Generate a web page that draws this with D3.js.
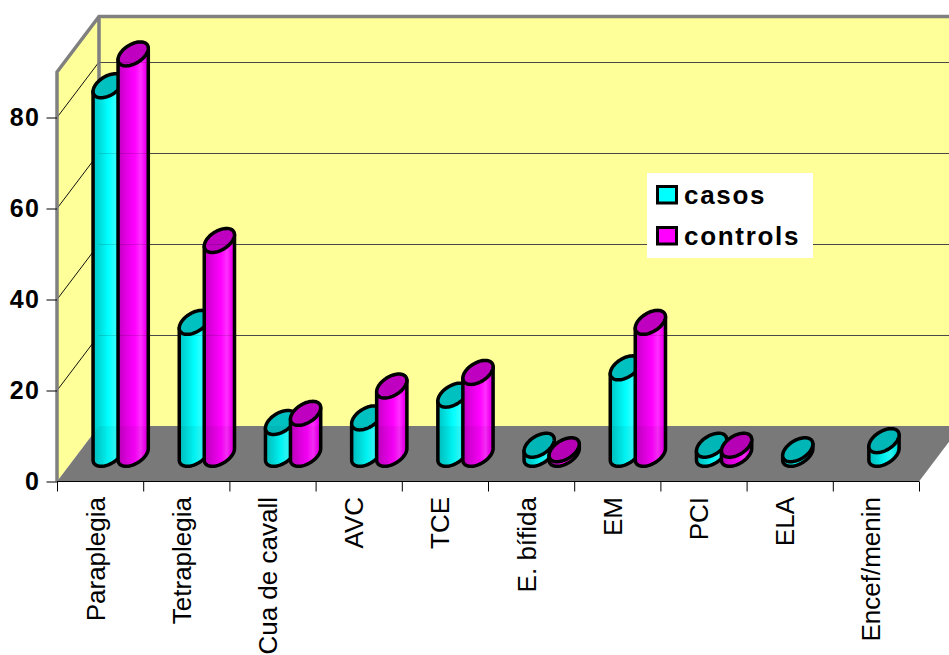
<!DOCTYPE html>
<html>
<head>
<meta charset="utf-8">
<script src="https://cdn.jsdelivr.net/npm/d3@7"></script>
<style>
html,body{margin:0;padding:0;background:#fff;overflow:hidden}
svg{display:block}
text{font-family:"Liberation Sans",Arial,sans-serif;fill:#000}
</style>
</head>
<body>
<svg id="chart" width="949" height="655"></svg>
<script>
// Patient counts per diagnosis
const categories = ["Paraplegia","Tetraplegia","Cua de cavall","AVC","TCE","E. bífida","EM","PCI","ELA","Encef/menin"];
const casos    = [81, 29, 7, 8, 13, 2, 19, 2, 1, 3];
const controls = [88, 47, 9, 15, 18, 1, 29, 2, null, null];
const seriesNames = ["casos","controls"];
const yTicks = [0,20,40,60,80];

const plot = {left:57, right:919, bottom:481.5, top:72, depthX:42, depthY:55.5};
const barDepth = 0.49;           // where the cylinders stand on the floor
const radius = {a:13.3, b:12, shear:7.2};

const svg = d3.select("#chart");
const y = d3.scaleLinear().domain([0,90]).range([plot.bottom, plot.top]);
const x = d3.scaleBand().domain(categories).range([plot.left, plot.right]);
const edge = d3.scaleLinear().domain([0,categories.length]).range([plot.left, plot.right]);
const sx = d3.scaleBand().domain(seriesNames).range([-25,25]);

// Horizontal shading for the cylinder bodies
const defs = svg.append("defs");
const shades = {
  casos:[["0",'#00c4c4'],["0.25",'#00e0e0'],["0.5",'#00ffff'],["0.72",'#30ffff'],["0.88",'#00f0f0'],["1",'#00d0d0']],
  controls:[["0",'#c000c0'],["0.25",'#e000e0'],["0.55",'#ff00ff'],["0.75",'#ff30ff'],["0.9",'#f000f0'],["1",'#c800c8']]
};
seriesNames.forEach(n=>{
  const g = defs.append("linearGradient").attr("id","shade-"+n).attr("x1",0).attr("x2",1).attr("y1",0).attr("y2",0);
  shades[n].forEach(s=>g.append("stop").attr("offset",s[0]).attr("stop-color",s[1]));
});
const topFill = {casos:"#00c0c0", controls:"#c000c0"};
const swatchFill = {casos:"#00ffff", controls:"#ff00ff"};

// Walls and floor of the 3D box
const wall = "#ffff99", frame = "#808080";
const dx = plot.depthX, dy = plot.depthY;
const floorPoints = [[plot.left,plot.bottom],[plot.right,plot.bottom],[plot.right+dx,plot.bottom-dy],[plot.left+dx,plot.bottom-dy]];
const poly = (pts,fill)=>svg.append("polygon").attr("points",pts.map(p=>p.join(",")).join(" ")).attr("fill",fill);
poly([[plot.left,plot.top],[plot.left+dx,plot.top-dy],[plot.right+dx,plot.top-dy],[plot.right+dx,plot.bottom-dy],[plot.left+dx,plot.bottom-dy],[plot.left,plot.bottom]],wall);
poly(floorPoints,frame);

// Gridlines on the back and side walls
const gridValues = yTicks.filter(v=>v>0);
svg.append("g").attr("stroke","#555").attr("shape-rendering","crispEdges")
  .selectAll("line").data(gridValues).join("line")
  .attr("x1",plot.left+dx).attr("x2",plot.right+dx).attr("y1",v=>y(v)-dy).attr("y2",v=>y(v)-dy);
svg.append("g").attr("stroke","#111")
  .selectAll("line").data(gridValues).join("line")
  .attr("x1",plot.left).attr("x2",plot.left+dx).attr("y1",v=>y(v)).attr("y2",v=>y(v)-dy);

// Grey frame edges
const framePath = d3.path();
framePath.moveTo(plot.left,plot.bottom); framePath.lineTo(plot.left,plot.top);
framePath.lineTo(plot.left+dx,plot.top-dy); framePath.lineTo(plot.right+dx,plot.top-dy);
framePath.moveTo(plot.left+dx,plot.top-dy); framePath.lineTo(plot.left+dx,plot.bottom-dy);
svg.append("path").attr("d",framePath.toString()).attr("fill","none").attr("stroke",frame).attr("stroke-width",3.5);

// Axes
const yAxis = d3.axisLeft(y).tickValues(yTicks).tickSize(10.5).tickPadding(6).tickFormat(d3.format("d"));
const yG = svg.append("g").attr("transform",`translate(${plot.left},0)`).call(yAxis);
yG.select(".domain").remove();
yG.selectAll("line").attr("stroke","#000");
yG.selectAll("text").style("font-size","25px").style("font-weight","bold").style("letter-spacing","1.5px")
  .style("font-family",'"Liberation Sans",Arial,sans-serif');

const xAxis = d3.axisBottom(edge).tickValues(d3.range(categories.length+1)).tickSize(10).tickFormat("");
const xG = svg.append("g").attr("transform",`translate(0,${plot.bottom})`).call(xAxis);
xG.select(".domain").attr("stroke","#000").attr("d",`M${plot.left},0H${plot.right}`);
xG.selectAll("line").attr("stroke","#000");

// Category labels, rotated and hanging under the axis
svg.append("g").selectAll("text").data(categories).join("text")
  .attr("transform",d=>`translate(${x(d)+x.bandwidth()/2+4.5},497) rotate(-90)`)
  .attr("text-anchor","end")
  .style("font-size","26px")
  .text(d=>d);

// Sheared ellipse lying in the floor plane, its side extremes are the silhouette edges
function ringPoint(cx,cy,t){
  return [cx+radius.a*Math.cos(t)+radius.shear*Math.sin(t), cy-radius.b*Math.sin(t)];
}
function ring(cx,cy){
  return d3.line().curve(d3.curveLinearClosed)(d3.range(0,72).map(i=>ringPoint(cx,cy,i/72*2*Math.PI)));
}
function body(cx,yTop,yBase){
  const tMax = Math.atan2(radius.shear,radius.a);        // rightmost point of the ring
  const pts = d3.range(0,37).map(i=>ringPoint(cx,yBase,tMax+Math.PI+i/36*Math.PI));
  const rightX = ringPoint(cx,yTop,tMax), leftX = ringPoint(cx,yTop,tMax+Math.PI);
  return d3.line()([leftX].concat(pts).concat([rightX]))+"Z";
}

// One pair of cylinders per category, the second series overlapping the first
const floorShiftX = barDepth*dx, floorShiftY = barDepth*dy;
categories.forEach((c,i)=>{
  [casos,controls].forEach((vals,k)=>{
    const v = vals[i];
    if(v==null) return;
    const n = seriesNames[k];
    const cx = x(c)+x.bandwidth()/2+floorShiftX+sx(n)+sx.bandwidth()/2;
    const yTop = y(v)-floorShiftY, yBase = y(0)-floorShiftY;
    const g = svg.append("g").attr("stroke","#000").attr("stroke-width",3.5).attr("stroke-linejoin","round");
    g.append("path").attr("d",body(cx,yTop,yBase)).attr("fill",`url(#shade-${n})`);
    g.append("path").attr("d",ring(cx,yTop)).attr("fill",topFill[n]);
  });
});

// Faint trace of the grid and floor edge showing through the cylinders
svg.append("g").attr("stroke","#000").attr("stroke-opacity",0.14).attr("shape-rendering","crispEdges")
  .selectAll("line").data(gridValues).join("line")
  .attr("x1",plot.left+dx).attr("x2",plot.right+dx).attr("y1",v=>y(v)-dy).attr("y2",v=>y(v)-dy);
poly(floorPoints,"#000").attr("fill-opacity",0.05);

// Legend
const legend = svg.append("g");
legend.append("rect").attr("x",647).attr("y",173).attr("width",166).attr("height",85).attr("fill","#fff");
seriesNames.forEach((n,i)=>{
  const ly = 186.5+i*41;
  legend.append("rect").attr("x",657.5).attr("y",ly).attr("width",19).attr("height",16.5)
    .attr("fill",swatchFill[n]).attr("stroke","#000").attr("stroke-width",3);
  legend.append("text").attr("x",684).attr("y",ly+17).style("font-size","26px").style("font-weight","bold")
    .style("letter-spacing","1.7px").text(n);
});
</script>
</body>
</html>
